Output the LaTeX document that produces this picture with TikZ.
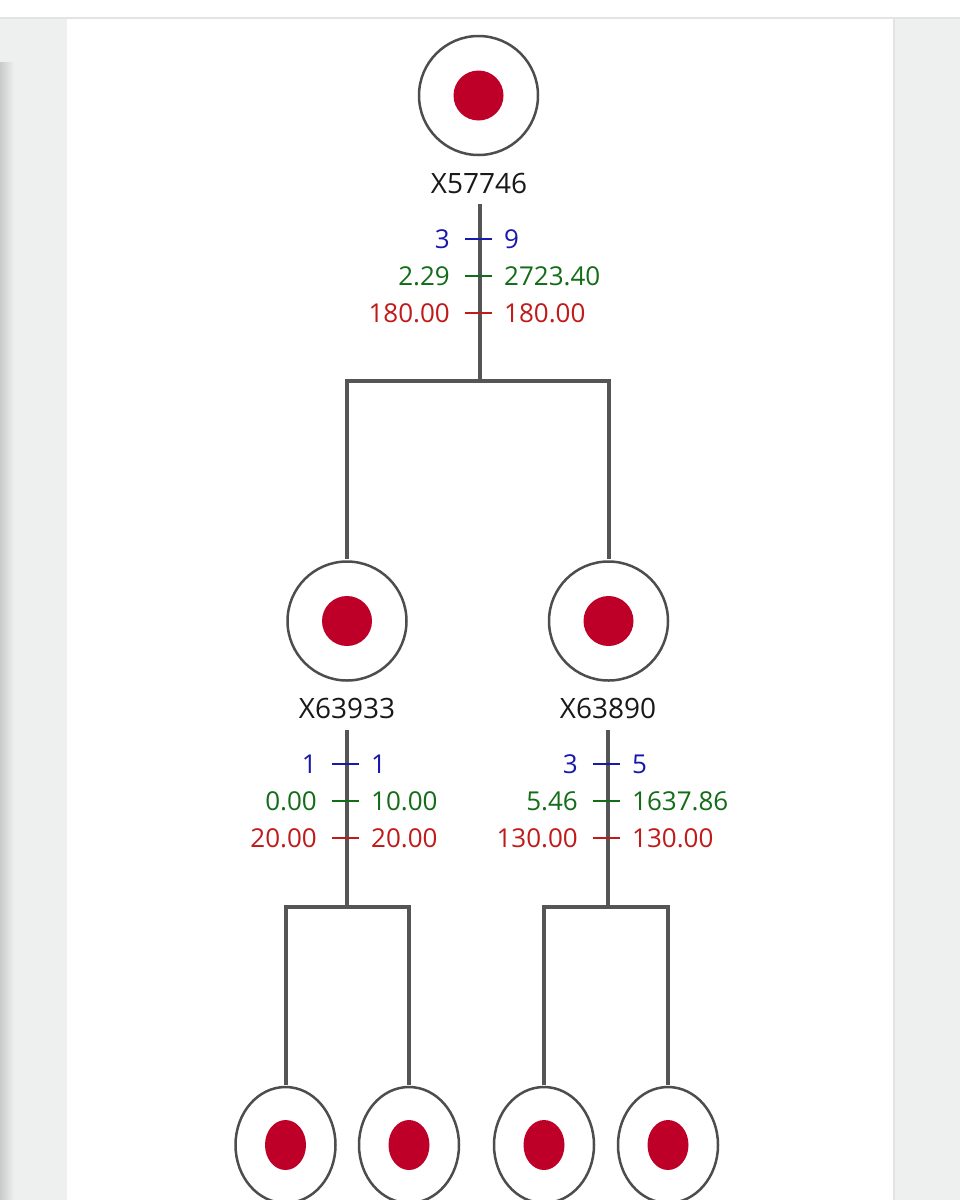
\documentclass[tikz,border=0pt]{standalone}
\usepackage{fontspec}
\setmainfont{Open Sans}
\usetikzlibrary{shapes.geometric}
\definecolor{bgc}{HTML}{EEF0EF}
\definecolor{linec}{HTML}{E2E4E3}
\definecolor{shadowc}{HTML}{C9CBCA}
\definecolor{ringc}{HTML}{4D4D4D}
\definecolor{edgec}{HTML}{555555}
\definecolor{dotc}{HTML}{BE0028}
\definecolor{sblue}{HTML}{1818AC}
\definecolor{sgreen}{HTML}{136C17}
\definecolor{sred}{HTML}{C01A1A}
\newcommand\statrow[6]{%
  \draw[tickln,#6] (#2-15,#3) -- (#2+12,#3);
  \node[num,text=#6,anchor=east] (#1L) at (#2-30,#3) {#4};
  \node[num,text=#6,anchor=west] (#1R) at (#2+24,#3) {#5};}
\begin{document}
\begin{tikzpicture}[x=1pt,y=-1pt,
  ring/.style={circle,draw=ringc,line width=2.5pt,fill=white,minimum size=119pt,inner sep=0pt},
  leaf/.style={ellipse,draw=ringc,line width=2.5pt,fill=white,minimum width=100pt,minimum height=116pt,inner sep=0pt},
  lbl/.style={inner sep=0pt,font=\fontsize{28}{30}\selectfont,text=black!90},
  num/.style={inner sep=0pt,font=\fontsize{26}{28}\selectfont},
  edge/.style={draw=edgec,line width=4pt},
  tickln/.style={line width=2.4pt}]
\useasboundingbox (0,0) rectangle (960,1200);
% background
\fill[bgc] (0,0) rectangle (960,1200);
\fill[white] (0,0) rectangle (960,17);
\fill[linec] (0,17) rectangle (960,19);
\shade[left color=shadowc,right color=bgc] (0,62) rectangle (14,1200);
\fill[linec] (892,19) rectangle (895,1200);
\fill[white] (67,19) rectangle (893,1200);

% coordinates for connectors
\coordinate (s0) at (480,204);
\coordinate (b0) at (480,381);
\coordinate (s1) at (347,730);
\coordinate (b1) at (347,907);
\coordinate (s2) at (608,730);
\coordinate (b2) at (608,907);

% edges (drawn first, nodes on top)
\draw[edge] (s0) -- (b0);
\draw[edge] (s1) -- (b1);
\draw[edge] (s2) -- (b2);

% nodes
\node[ring] (n0) at (478.5,95.5) {};
\node[ring] (n1) at (347,621) {};
\node[ring] (n2) at (608.5,621) {};
\node[leaf] (m1) at (285.5,1145) {};
\node[leaf] (m2) at (409,1145) {};
\node[leaf] (m3) at (544,1145) {};
\node[leaf] (m4) at (668,1145) {};

\draw[edge] (b0) -| ([yshift=1.25pt]n1.north);
\draw[edge] (b0) -| ([yshift=1.25pt]n2.north);
\draw[edge] (b1) -| ([yshift=1.25pt]m1.north);
\draw[edge] (b1) -| ([yshift=1.25pt]m2.north);
\draw[edge] (b2) -| ([yshift=1.25pt]m3.north);
\draw[edge] (b2) -| ([yshift=1.25pt]m4.north);

% inner dots
\fill[dotc] (n0.center) circle[radius=25];
\fill[dotc] (n1.center) circle[radius=25];
\fill[dotc] (n2.center) circle[radius=25];
\foreach \m in {m1,m2,m3,m4}{\fill[dotc] (\m.center) ellipse[x radius=20.5,y radius=25];}

% labels
\node[lbl] (t0) at (479,183) {X57746};
\node[lbl] (t1) at (347,708) {X63933};
\node[lbl] (t2) at (608,708) {X63890};

% statistics
\statrow{a1}{480}{239}{3}{9}{sblue}
\statrow{a2}{480}{276}{2.29}{2723.40}{sgreen}
\statrow{a3}{480}{313}{180.00}{180.00}{sred}
\statrow{c1}{347}{764}{1}{1}{sblue}
\statrow{c2}{347}{801}{0.00}{10.00}{sgreen}
\statrow{c3}{347}{838}{20.00}{20.00}{sred}
\statrow{d1}{608}{764}{3}{5}{sblue}
\statrow{d2}{608}{801}{5.46}{1637.86}{sgreen}
\statrow{d3}{608}{838}{130.00}{130.00}{sred}
\end{tikzpicture}
\end{document}
